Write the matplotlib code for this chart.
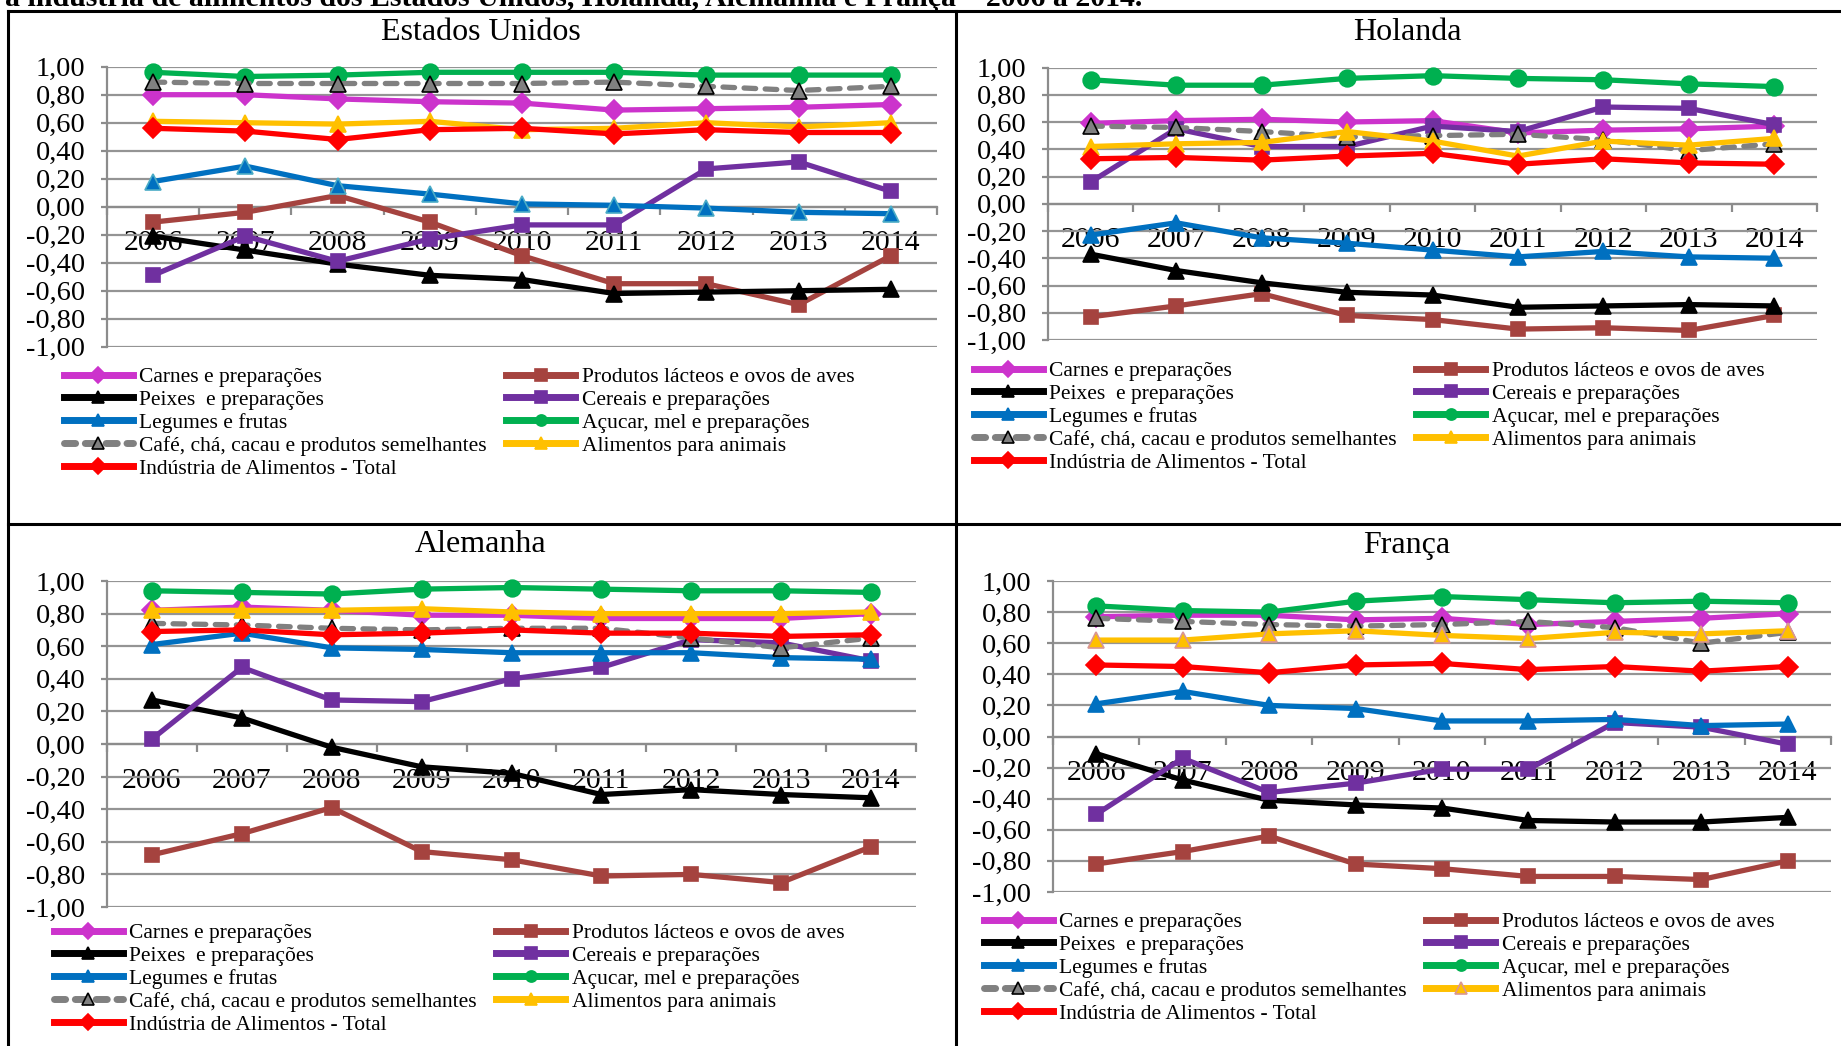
import numpy as np
import matplotlib
matplotlib.use("Agg")
from matplotlib import pyplot as plt
from matplotlib.lines import Line2D

plt.rcParams['font.family'] = ['Liberation Serif', 'DejaVu Serif']

W, H = 1841, 1046

anos = ['2006', '2007', '2008', '2009', '2010', '2011', '2012', '2013', '2014']
series = ['Carnes e preparações', 'Produtos lácteos e ovos de aves',
          'Peixes  e preparações', 'Cereais e preparações',
          'Legumes e frutas', 'Açucar, mel e preparações',
          'Café, chá, cacau e produtos semelhantes', 'Alimentos para animais',
          'Indústria de Alimentos - Total']

# rows follow the order of 'series'
eua = [[0.80, 0.80, 0.77, 0.75, 0.74, 0.69, 0.70, 0.71, 0.73],
       [-0.11, -0.04, 0.08, -0.11, -0.35, -0.55, -0.55, -0.70, -0.35],
       [-0.21, -0.31, -0.41, -0.49, -0.52, -0.62, -0.61, -0.60, -0.59],
       [-0.49, -0.21, -0.39, -0.23, -0.13, -0.13, 0.27, 0.32, 0.11],
       [0.18, 0.29, 0.15, 0.09, 0.02, 0.01, -0.01, -0.04, -0.05],
       [0.96, 0.93, 0.94, 0.96, 0.96, 0.96, 0.94, 0.94, 0.94],
       [0.89, 0.88, 0.88, 0.88, 0.88, 0.89, 0.86, 0.83, 0.86],
       [0.61, 0.60, 0.59, 0.61, 0.55, 0.56, 0.60, 0.57, 0.60],
       [0.56, 0.54, 0.48, 0.55, 0.56, 0.52, 0.55, 0.53, 0.53]]

holanda = [[0.59, 0.61, 0.62, 0.60, 0.61, 0.52, 0.54, 0.55, 0.57],
           [-0.83, -0.75, -0.66, -0.82, -0.85, -0.92, -0.91, -0.93, -0.82],
           [-0.37, -0.49, -0.58, -0.65, -0.67, -0.76, -0.75, -0.74, -0.75],
           [0.16, 0.55, 0.42, 0.42, 0.57, 0.53, 0.71, 0.70, 0.58],
           [-0.23, -0.14, -0.25, -0.29, -0.34, -0.39, -0.35, -0.39, -0.40],
           [0.91, 0.87, 0.87, 0.92, 0.94, 0.92, 0.91, 0.88, 0.86],
           [0.57, 0.56, 0.53, 0.49, 0.50, 0.51, 0.47, 0.39, 0.44],
           [0.42, 0.44, 0.45, 0.53, 0.46, 0.35, 0.46, 0.43, 0.48],
           [0.33, 0.34, 0.32, 0.35, 0.37, 0.29, 0.33, 0.30, 0.29]]

alemanha = [[0.82, 0.84, 0.82, 0.79, 0.79, 0.77, 0.77, 0.77, 0.80],
            [-0.68, -0.55, -0.39, -0.66, -0.71, -0.81, -0.80, -0.85, -0.63],
            [0.27, 0.16, -0.02, -0.14, -0.18, -0.31, -0.28, -0.31, -0.33],
            [0.03, 0.47, 0.27, 0.26, 0.40, 0.47, 0.64, 0.62, 0.51],
            [0.61, 0.68, 0.59, 0.58, 0.56, 0.56, 0.56, 0.53, 0.52],
            [0.94, 0.93, 0.92, 0.95, 0.96, 0.95, 0.94, 0.94, 0.93],
            [0.74, 0.73, 0.71, 0.70, 0.71, 0.71, 0.65, 0.59, 0.65],
            [0.82, 0.82, 0.82, 0.83, 0.81, 0.80, 0.80, 0.80, 0.81],
            [0.69, 0.70, 0.67, 0.68, 0.70, 0.68, 0.68, 0.66, 0.67]]

franca = [[0.77, 0.78, 0.78, 0.75, 0.76, 0.72, 0.74, 0.76, 0.79],
          [-0.82, -0.74, -0.64, -0.82, -0.85, -0.90, -0.90, -0.92, -0.80],
          [-0.11, -0.28, -0.41, -0.44, -0.46, -0.54, -0.55, -0.55, -0.52],
          [-0.50, -0.14, -0.36, -0.30, -0.21, -0.21, 0.09, 0.06, -0.05],
          [0.21, 0.29, 0.20, 0.18, 0.10, 0.10, 0.11, 0.07, 0.08],
          [0.84, 0.81, 0.80, 0.87, 0.90, 0.88, 0.86, 0.87, 0.86],
          [0.76, 0.74, 0.72, 0.71, 0.72, 0.74, 0.70, 0.60, 0.67],
          [0.62, 0.62, 0.66, 0.68, 0.65, 0.63, 0.67, 0.66, 0.68],
          [0.46, 0.45, 0.41, 0.46, 0.47, 0.43, 0.45, 0.42, 0.45]]

cores = ['#CC33CC', '#A5433F', '#000000', '#7030A0', '#0070C0',
         '#00B050', '#808080', '#FFC000', '#FF0000']
marcadores = ['D', 's', '^', 's', '^', 'o', '^', '^', 'D']
tamanhos = [10, 10, 12, 10, 12, 12, 12, 12, 10]

# panel layout in pixels: title pos, axes box (left, right, top, bottom), legend anchor
paineis = [
    ('Estados Unidos', eua, (481, 32), (107, 937, 66.7, 346.7), (64, 367)),
    ('Holanda', holanda, (1407, 32), (1048, 1817, 67.5, 340), (974, 361)),
    ('Alemanha', alemanha, (481, 545), (107, 916, 581, 907), (54, 923)),
    ('França', franca, (1407, 545), (1053, 1831, 581, 892), (984, 912)),
]


def painel(fig, nome, dados, tpos, caixa, lpos, idx):
    l, r, t, b = caixa
    ax = fig.add_axes([l / W, 1 - b / H, (r - l) / W, (b - t) / H])
    x = np.arange(len(anos))
    for i, vals in enumerate(dados):
        edge = cores[i]
        if i == 6:
            edge = 'black'
        if i == 4 and idx == 0:
            edge = '#4BACC6'
        if i == 7 and idx == 3:
            edge = '#D99694'
        ls = (0, (2.2, 1.8)) if i == 6 else '-'
        ax.plot(x, vals, color=cores[i], lw=3.8, ls=ls,
                dash_capstyle='round', marker=marcadores[i],
                ms=tamanhos[i], mfc=cores[i], mec=edge, mew=1.2,
                label=series[i], zorder=3 + i, clip_on=False)

    ax.set_xlim(-0.5, len(anos) - 0.5)
    ax.set_ylim(-1, 1)
    yt = np.round(np.arange(-1, 1.01, 0.2), 2)
    ax.set_yticks(yt)
    ax.set_yticklabels([('%.2f' % (v + 0.0)).replace('.', ',') for v in yt])
    ax.grid(axis='y', color='#949494', lw=1.6)
    ax.set_axisbelow(True)
    for s in ['top', 'right']:
        ax.spines[s].set_visible(False)
    ax.spines['left'].set_color('#8C8C8C')
    ax.spines['left'].set_linewidth(1.6)
    ax.spines['bottom'].set_position(('data', 0))
    ax.spines['bottom'].set_color('#8C8C8C')
    ax.spines['bottom'].set_linewidth(1.6)
    ax.set_xticks(x)
    ax.set_xticklabels(anos)
    ax.set_xticks(np.arange(-0.5, len(anos)), minor=True)
    ax.tick_params(axis='x', which='major', length=0, pad=17, labelsize=21.5)
    ax.tick_params(axis='x', which='minor', length=6, width=1.6,
                   color='#8C8C8C', direction='out')
    ax.tick_params(axis='y', length=4.5, width=1.6, color='#8C8C8C',
                   pad=11, labelsize=20.5)

    fig.text(tpos[0] / W, 1 - tpos[1] / H, nome, fontsize=23,
             ha='center', va='center')

    ordem = [0, 2, 4, 6, 8, 1, 3, 5, 7]
    hs = []
    for k in ordem:
        e = 'black' if k == 6 else cores[k]
        if k == 7 and idx == 3:
            e = '#D99694'
        hs.append(Line2D([], [], color=cores[k], lw=5,
                         ls=(0, (1.6, 1.4)) if k == 6 else '-',
                         dash_capstyle='round',
                         marker=marcadores[k], ms=8 if k != 6 else 9,
                         mfc=cores[k] if k != 6 else '#808080', mec=e,
                         mew=1.2))
    fig.legend(hs, [series[k] for k in ordem], ncol=2, frameon=False,
               loc='upper left', bbox_to_anchor=(lpos[0] / W, 1 - lpos[1] / H),
               borderpad=0, borderaxespad=0, fontsize=15.5,
               handlelength=3.2, handletextpad=0.3, columnspacing=0.9,
               labelspacing=0.13, numpoints=1)


fig = plt.figure(figsize=(W / 100, H / 100), dpi=100)

# cut-off caption above the table
fig.text(5 / W, 1 - 6 / H,
         'a indústria de alimentos dos Estados Unidos, Holanda, Alemanha e França – 2006 a 2014.',
         fontsize=21.5, fontweight='bold', ha='left', va='baseline')

# table borders
borda = dict(color='black', lw=2.2, transform=fig.transFigure)
fig.add_artist(Line2D([8 / W, 1], [1 - 11 / H, 1 - 11 / H], **borda))
fig.add_artist(Line2D([8 / W, 8 / W], [0, 1 - 11 / H], **borda))
fig.add_artist(Line2D([956 / W, 956 / W], [0, 1 - 11 / H], **borda))
fig.add_artist(Line2D([8 / W, 1], [1 - 524 / H, 1 - 524 / H], **borda))

for idx, (nome, dados, tpos, caixa, lpos) in enumerate(paineis):
    painel(fig, nome, dados, tpos, caixa, lpos, idx)

fig.savefig('out.png', dpi=100)
